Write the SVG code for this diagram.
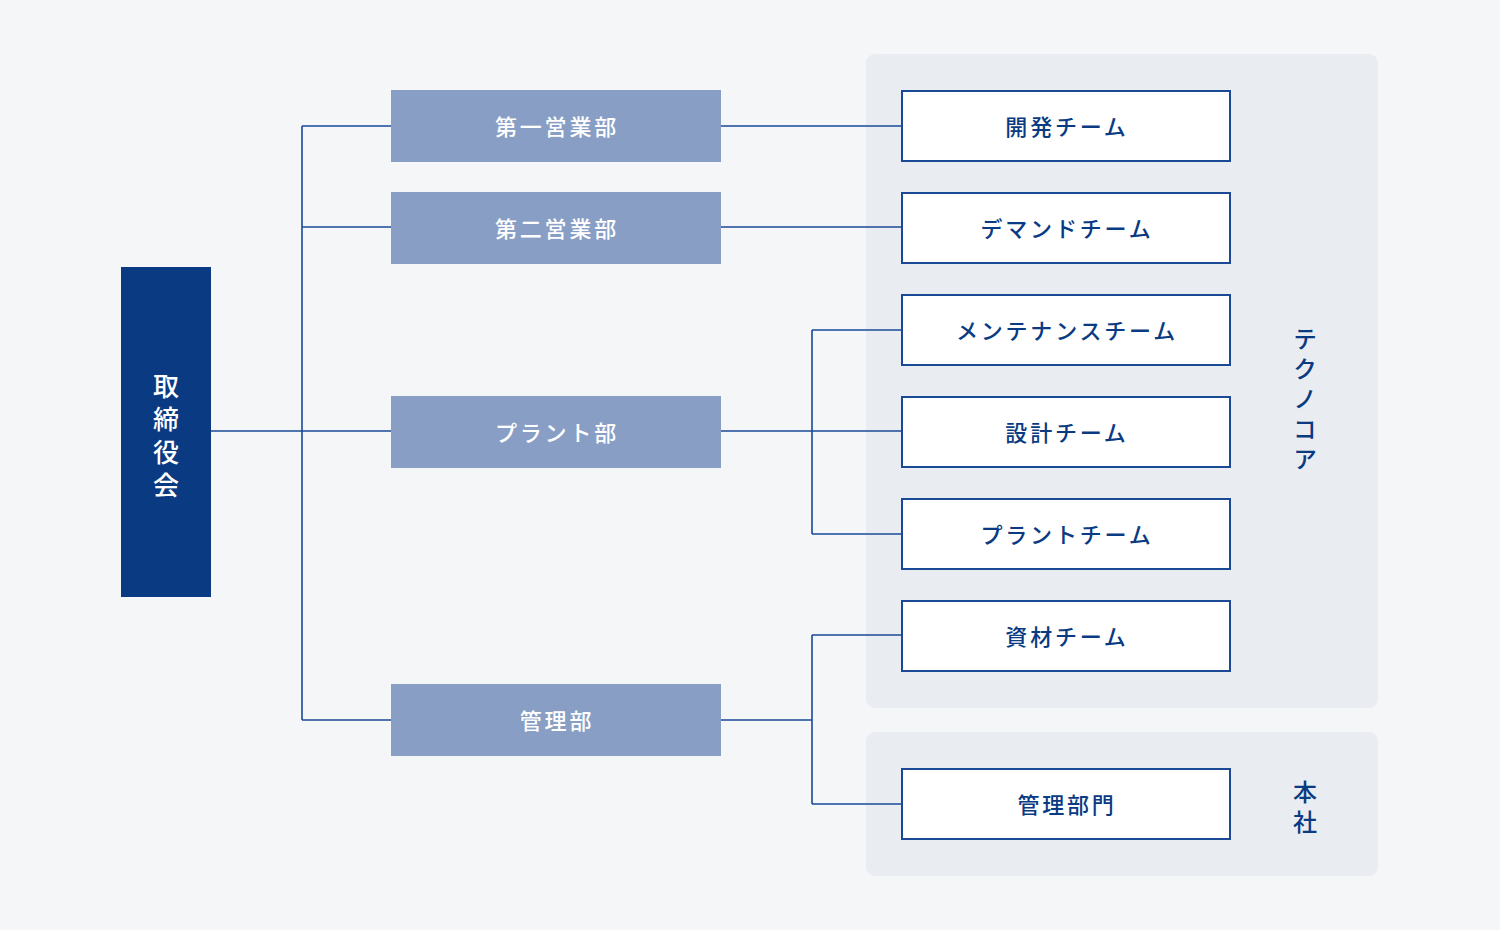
<svg xmlns="http://www.w3.org/2000/svg" width="1500" height="930" viewBox="0 0 1500 930">
<style>
.grp{fill:#e9ecf1}
.dept rect{fill:#889ec4}
.dept text{fill:#ffffff;font-size:22px;letter-spacing:2.8px;font-weight:500}
.team rect{fill:#ffffff;stroke:#1a4a96;stroke-width:2}
.team text{fill:#0a3a82;font-size:22px;letter-spacing:2.8px;font-weight:500}
text{font-family:"Noto Sans CJK JP","Noto Sans",sans-serif;text-anchor:middle;dominant-baseline:central}
.vl{fill:#0a3a82;font-size:24px;font-weight:500;writing-mode:vertical-rl;letter-spacing:6px}
.bd{fill:#ffffff;font-size:26px;font-weight:500;writing-mode:vertical-rl;letter-spacing:7px}
.conn{fill:none;stroke:#1a4a96;stroke-width:1.6}
</style>
<rect width="1500" height="930" fill="#f4f6f8"/>
<rect class="grp" x="866" y="54" width="512" height="654" rx="9"/>
<rect class="grp" x="866" y="732" width="512" height="144" rx="9"/>
<g class="conn">
<path d="M211 431H391M302 126V720M302 126H391M302 227H391M302 720H391"/>
<path d="M721 126H902M721 227H902M721 431H902M812 330V534M812 330H902M812 534H902"/>
<path d="M721 720H812M812 635V804M812 635H902M812 804H902"/>
</g>
<g id="board">
<rect x="121" y="267" width="90" height="330" fill="#0a3a82"/>
<text class="bd" x="166" y="439">取締役会</text>
</g>
<g id="dept1" class="dept"><rect x="391" y="90" width="330" height="72"/><text x="557" y="125">第一営業部</text></g>
<g id="dept2" class="dept"><rect x="391" y="192" width="330" height="72"/><text x="557" y="227">第二営業部</text></g>
<g id="dept3" class="dept"><rect x="391" y="396" width="330" height="72"/><text x="557" y="431">プラント部</text></g>
<g id="dept4" class="dept"><rect x="391" y="684" width="330" height="72"/><text x="557" y="719">管理部</text></g>
<g id="team1" class="team"><rect x="902" y="91" width="328" height="70"/><text x="1067" y="125">開発チーム</text></g>
<g id="team2" class="team"><rect x="902" y="193" width="328" height="70"/><text x="1067" y="227">デマンドチーム</text></g>
<g id="team3" class="team"><rect x="902" y="295" width="328" height="70"/><text x="1067" y="329">メンテナンスチーム</text></g>
<g id="team4" class="team"><rect x="902" y="397" width="328" height="70"/><text x="1067" y="431">設計チーム</text></g>
<g id="team5" class="team"><rect x="902" y="499" width="328" height="70"/><text x="1067" y="533">プラントチーム</text></g>
<g id="team6" class="team"><rect x="902" y="601" width="328" height="70"/><text x="1067" y="635">資材チーム</text></g>
<g id="team7" class="team"><rect x="902" y="769" width="328" height="70"/><text x="1067" y="803">管理部門</text></g>
<g id="technocore">
<text class="vl" x="1305" y="402">テクノコア</text>
</g>
<g id="honsha">
<text class="vl" x="1305" y="810">本社</text>
</g>
</svg>
